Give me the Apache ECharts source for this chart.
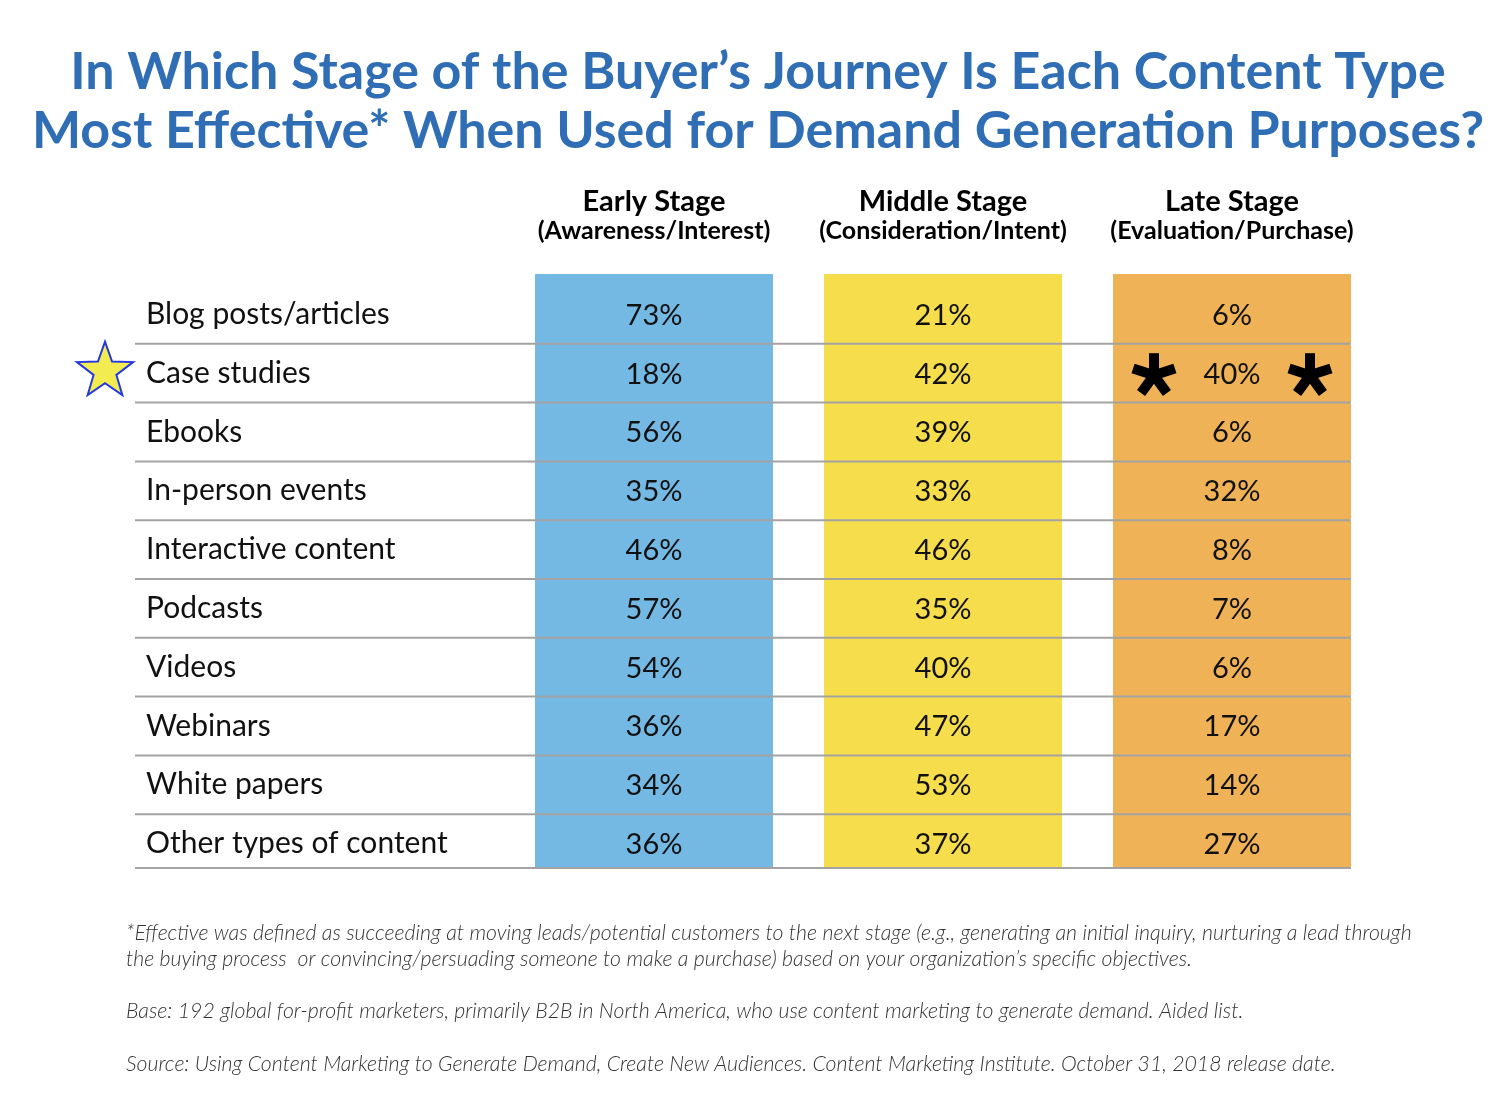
<!DOCTYPE html>
<html>
<head>
<meta charset="utf-8">
<script src="https://cdn.jsdelivr.net/npm/echarts@6/dist/echarts.min.js"></script>
<style>
html,body{margin:0;padding:0;background:#fff;}
#chart{width:1496px;height:1102px;}
</style>
</head>
<body>
<div id="chart"></div>
<script>
// ---- data ----
const rowLabels = ['Blog posts/articles','Case studies','Ebooks','In-person events','Interactive content','Podcasts','Videos','Webinars','White papers','Other types of content'];
const stages = ['Early Stage','Middle Stage','Late Stage'];
const stageNotes = ['(Awareness/Interest)','(Consideration/Intent)','(Evaluation/Purchase)'];
const earlyValues = [73,18,56,35,46,57,54,36,34,36];
const middleValues = [21,42,39,33,46,35,40,47,53,37];
const lateValues = [6,40,6,32,8,7,6,17,14,27];
const highlightedRows = ['Case studies'];
const highlightedCells = [['Case studies','Late Stage']];
const titleLines = ['In Which Stage of the Buyer\u2019s Journey Is Each Content Type','Most Effective* When Used for Demand Generation Purposes?'];
const footnoteLines = [
  '*Effective was defined as succeeding at moving leads/potential customers to the next stage (e.g., generating an initial inquiry, nurturing a lead through',
  'the buying process  or convincing/persuading someone to make a purchase) based on your organization\u2019s specific objectives.',
  'Base: 192 global for-profit marketers, primarily B2B in North America, who use content marketing to generate demand. Aided list.',
  'Source: Using Content Marketing to Generate Demand, Create New Audiences. Content Marketing Institute. October 31, 2018 release date.'
];

// ---- styling ----
const FONT = 'Lato, "Noto Sans", sans-serif';
const stageColors = ['#74B9E4','#F6DD4B','#EFB257'];
const seriesValues = [earlyValues, middleValues, lateValues];
const TOP_PAD = 11, BOTTOM_TRIM = 5;
const GRID_TOP = 285, GRID_H = 588;
const colLefts = [535, 824, 1113], colW = 238;

const chart = echarts.init(document.getElementById('chart'), null, {renderer:'canvas'});

function asteriskShape(cx, cy) {
  const L = 22, children = [];
  for (let k = 0; k < 5; k++) {
    const a = (-90 + k * 72) * Math.PI / 180;
    children.push({type:'line', shape:{x1:cx, y1:cy, x2:cx + L*Math.cos(a), y2:cy + L*Math.sin(a)},
      style:{stroke:'#000', lineWidth:10, lineCap:'butt'}});
  }
  return children;
}

function starPoints(cx, cy, R, r) {
  const pts = [];
  for (let k = 0; k < 10; k++) {
    const rad = k % 2 === 0 ? R : r;
    const a = (-90 + k * 36) * Math.PI / 180;
    pts.push([cx + rad*Math.cos(a), cy + rad*Math.sin(a)]);
  }
  return pts;
}

const grids = [{left:135, width:1216, top:GRID_TOP, height:GRID_H}];
const xAxes = [{gridIndex:0, type:'category', data:['all'], show:false}];
const yAxes = [{gridIndex:0, type:'category', data:rowLabels, inverse:true, z:10,
  axisLine:{show:false}, axisTick:{show:false}, splitLine:{show:false},
  axisLabel:{inside:true, margin:11, fontSize:30, fontFamily:FONT, color:'#111'}}];
const series = [];

stages.forEach((st, i) => {
  grids.push({left:colLefts[i], width:colW, top:GRID_TOP, height:GRID_H});
  xAxes.push({gridIndex:i+1, type:'category', data:[st], position:'top',
    axisLine:{show:false}, axisTick:{show:false},
    axisLabel:{margin:40, interval:0,
      formatter: v => '{a|' + v + '}\n{b|' + stageNotes[stages.indexOf(v)] + '}',
      rich:{a:{fontSize:29, fontWeight:'bold', fontFamily:FONT, color:'#000', lineHeight:29},
            b:{fontSize:25, fontWeight:'bold', fontFamily:FONT, color:'#000', lineHeight:29}}}});
  yAxes.push({gridIndex:i+1, type:'category', data:rowLabels, inverse:true, show:false});
  series.push({
    type:'custom', xAxisIndex:i+1, yAxisIndex:i+1, z:2,
    data: seriesValues[i].map((v, r) => [st, rowLabels[r], v]),
    renderItem: (params, api) => {
      const c = api.coord([api.value(0), api.value(1)]);
      const sz = api.size([1, 1]);
      const r = params.dataIndex;
      let y0 = c[1] - sz[1]/2, h = sz[1];
      if (r === 0) { y0 -= TOP_PAD; h += TOP_PAD; }
      if (r === rowLabels.length - 1) { h -= BOTTOM_TRIM; }
      const children = [
        {type:'rect', shape:{x:c[0]-sz[0]/2, y:y0, width:sz[0], height:h}, style:{fill:stageColors[i]}},
        {type:'text', style:{text: api.value(2) + '%', x:c[0], y:c[1]+1, align:'center', verticalAlign:'middle',
          fontSize:29, fontFamily:FONT, fill:'#111'}}
      ];
      const hl = highlightedCells.some(h => h[0] === rowLabels[r] && h[1] === st);
      if (hl) {
        children.push(...asteriskShape(c[0]-78, c[1]+2));
        children.push(...asteriskShape(c[0]+78, c[1]+2));
      }
      return {type:'group', children};
    }
  });
});

// separator lines + star
series.push({
  type:'custom', xAxisIndex:0, yAxisIndex:0, z:5,
  data: rowLabels.map(l => ['all', l]),
  renderItem: (params, api) => {
    const c = api.coord([api.value(0), api.value(1)]);
    const sz = api.size([1, 1]);
    const cs = params.coordSys;
    const r = params.dataIndex;
    let yb = c[1] + sz[1]/2;
    if (r === rowLabels.length - 1) yb -= BOTTOM_TRIM;
    const children = [{type:'line', shape:{x1:cs.x, y1:yb, x2:cs.x + cs.width, y2:yb},
      style:{stroke:'#A3A3A3', lineWidth:2}}];
    if (highlightedRows.indexOf(rowLabels[r]) >= 0) {
      children.push({type:'polygon', shape:{points:starPoints(cs.x - 30, c[1] - 2, 29.5, 12)},
        style:{fill:'#F2EC50', stroke:'#2438E0', lineWidth:2}});
    }
    return {type:'group', children};
  }
});

const graphics = [];
const titleY = [72, 131];
titleLines.forEach((t, i) => graphics.push({type:'text', x:758, y:titleY[i],
  style:{text:t, align:'center', verticalAlign:'middle', fontSize:52, fontWeight:'bold', fontFamily:FONT, fill:'#2F6DB5'}}));
const footY = [933, 959, 1011, 1064];
footnoteLines.forEach((t, i) => graphics.push({type:'text', x:126, y:footY[i],
  style:{text:t, verticalAlign:'middle', fontSize:21.3, fontStyle:'italic', fontWeight:300, fontFamily:FONT, fill:'#333'}}));

chart.setOption({
  animation:false,
  backgroundColor:'#fff',
  grid:grids, xAxis:xAxes, yAxis:yAxes, series:series, graphic:graphics
});
</script>
</body>
</html>
